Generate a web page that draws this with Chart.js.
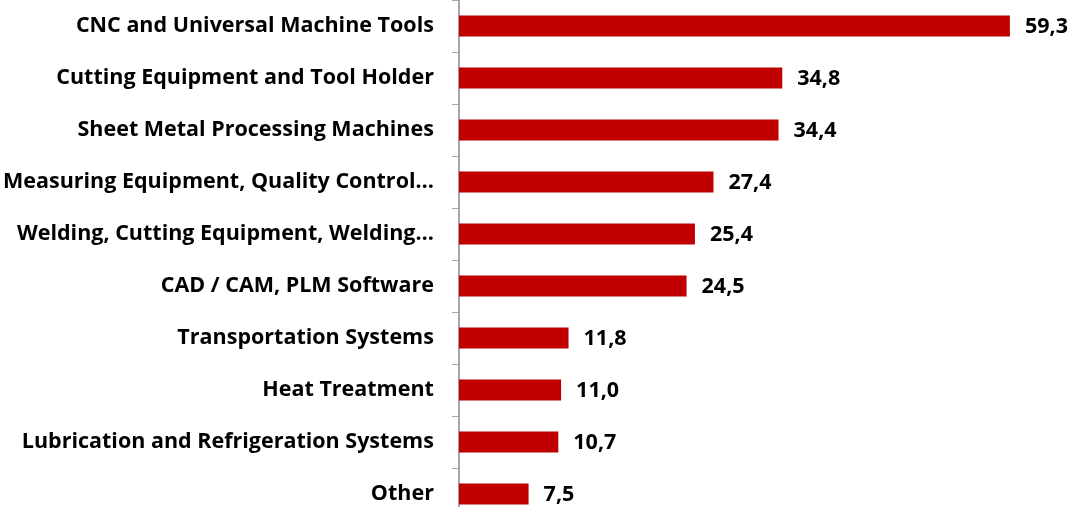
<!DOCTYPE html>
<html>
<head>
<meta charset="utf-8">
<script src="https://cdn.jsdelivr.net/npm/chart.js@4/dist/chart.umd.min.js"></script>
<style>
html,body{margin:0;padding:0;background:#fff;overflow:hidden;}
#wrap{position:relative;width:1077px;height:520px;}
</style>
</head>
<body>
<div id="wrap"><canvas id="c"></canvas></div>
<script>
const categories = [
  "CNC and Universal Machine Tools",
  "Cutting Equipment and Tool Holder",
  "Sheet Metal Processing Machines",
  "Measuring Equipment, Quality Control…",
  "Welding, Cutting Equipment, Welding…",
  "CAD / CAM, PLM Software",
  "Transportation Systems",
  "Heat Treatment",
  "Lubrication and Refrigeration Systems",
  "Other"
];
const values = [59.3, 34.8, 34.4, 27.4, 25.4, 24.5, 11.8, 11.0, 10.7, 7.5];
const valueLabels = ["59,3", "34,8", "34,4", "27,4", "25,4", "24,5", "11,8", "11,0", "10,7", "7,5"];

const FONT = "'Open Sans', sans-serif";

const valueLabelPlugin = {
  id: 'valueLabels',
  afterDatasetsDraw(chart) {
    const ctx = chart.ctx;
    const meta = chart.getDatasetMeta(0);
    ctx.save();
    ctx.font = "700 21.5px " + FONT;
    ctx.fillStyle = "#000";
    ctx.textBaseline = "middle";
    ctx.textAlign = "left";
    meta.data.forEach((bar, i) => {
      ctx.fillText(valueLabels[i], bar.x + 15, bar.y + 1);
    });
    ctx.restore();
  }
};

new Chart(document.getElementById('c'), {
  type: 'bar',
  data: {
    labels: categories,
    datasets: [{
      data: values,
      backgroundColor: '#C00000',
      borderWidth: 0,
      barPercentage: 0.8,
      categoryPercentage: 0.5
    }]
  },
  options: {
    indexAxis: 'y',
    responsive: true,
    maintainAspectRatio: false,
    animation: false,
    layout: { padding: { left: -15, right: 42, top: 0, bottom: 0 } },
    plugins: { legend: { display: false }, tooltip: { enabled: false } },
    scales: {
      x: { display: false, min: 0, max: 62 },
      y: {
        afterFit(scale) { scale.paddingTop = 0; scale.paddingBottom = 0; },
        grid: { drawOnChartArea: false, drawTicks: true, tickLength: 7, color: '#a6a6a6', offset: true },
        border: { display: true, color: '#a6a6a6', width: 2 },
        ticks: { color: '#000', padding: 18, font: { family: FONT, size: 21.5, weight: '700' } }
      }
    }
  },
  plugins: [valueLabelPlugin]
});
</script>
</body>
</html>
